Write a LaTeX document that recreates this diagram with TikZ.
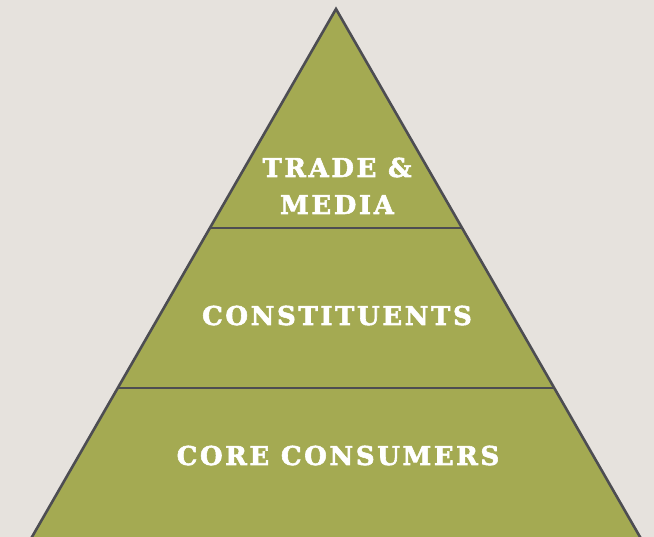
\documentclass[tikz,border=0pt]{standalone}
\usepackage{fontspec}
\newfontfamily\labelfont[LetterSpace=10,FakeBold=2.2,UprightFont={* Bold}]{DejaVu Serif}
\definecolor{bgc}{HTML}{E6E2DD}
\definecolor{olive}{HTML}{A4AA52}
\definecolor{edgec}{HTML}{4D4D52}
\tikzset{
  tier/.style={fill=olive},
  edge/.style={draw=edgec, line width=2.6pt, line join=miter},
  tierlabel/.style={text=white, font=\labelfont\fontsize{26}{28}\selectfont, inner sep=0pt, anchor=base}
}
\begin{document}
\begin{tikzpicture}[x=1pt,y=-1pt]
\useasboundingbox (0,0) rectangle (654,537);
\fill[bgc] (0,0) rectangle (654,537);
\begin{scope}
\clip (0,0) rectangle (654,537);
\coordinate (apex) at (336,9);
\coordinate (bl) at (-9.5,609);
\coordinate (br) at (681.5,609);
\path[tier,edge] (apex) -- (br) -- (bl) -- cycle;
\draw[edge] (210.2,228) -- (461.8,228);
\draw[edge] (118.2,388) -- (553.8,388);
\end{scope}
\node[tierlabel] (t1) at (337,177) {TRADE \&};
\node[tierlabel] (t1b) at (337,214) {MEDIA};
\node[tierlabel] (t2) at (337,325) {CONSTITUENTS};
\node[tierlabel] (t3) at (338,465) {CORE CONSUMERS};
\end{tikzpicture}
\end{document}
